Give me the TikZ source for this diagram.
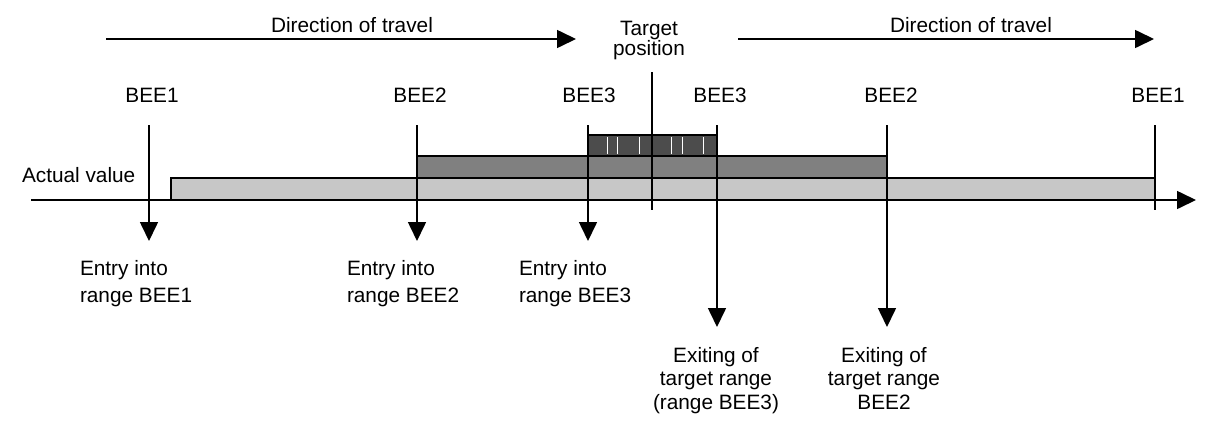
\documentclass[tikz,border=0pt]{standalone}
\usepackage{fontspec}
\setmainfont{Liberation Sans}
\usetikzlibrary{arrows.meta}
\begin{document}
\begin{tikzpicture}[x=1pt,y=-1pt,
  every node/.style={inner sep=0pt, outer sep=0pt, font=\fontsize{20.8}{24}\selectfont},
  ln/.style={line width=1.6pt},
  arr/.style={line width=1.6pt, -{Triangle[length=19pt,width=18pt]}},
  entrylbl/.style={anchor=north west, align=left, font=\fontsize{20.8}{27}\selectfont},
  exitlbl/.style={anchor=north, align=center, font=\fontsize{20.8}{23.5}\selectfont},
  barA/.style={draw=black, line width=1.4pt, fill=black!22},
  barB/.style={draw=black, line width=1.4pt, fill=black!50},
  barC/.style={draw=black, line width=1.4pt, fill=black!70},
  wline/.style={draw=white, line width=0.9pt}
]
\useasboundingbox (0,0) rectangle (1209,421);

% top direction arrows
\node[anchor=base] (dl) at (352,32) {Direction of travel};
\node[anchor=base] (dr) at (971,32) {Direction of travel};
\coordinate (dls) at (106,39); \coordinate (dle) at (576,39);
\coordinate (drs) at (738,39); \coordinate (dre) at (1154,39);
\draw[arr] (dls) -- (dle);
\draw[arr] (drs) -- (dre);

% target position
\node[anchor=north, align=center, font=\fontsize{20.8}{18.5}\selectfont] (tp) at (649,21) {Target\\position};

% BEE labels
\node[anchor=base] (b1l) at (152,102) {BEE1};
\node[anchor=base] (b2l) at (420,102) {BEE2};
\node[anchor=base] (b3l) at (589,102) {BEE3};
\node[anchor=base] (b3r) at (720,102) {BEE3};
\node[anchor=base] (b2r) at (891,102) {BEE2};
\node[anchor=base] (b1r) at (1158,102) {BEE1};

\node[anchor=base west] (av) at (22,182) {Actual value};

% bars
\draw[barA] (171,178) rectangle (1155,200);
\draw[barB] (417,156) rectangle (887,178);
\draw[barC] (588,135) rectangle (717,156);
\foreach \x in {607,617,639,671,682,703} \draw[wline] (\x,137) -- (\x,154);

% axis
\coordinate (ax0) at (31,200); \coordinate (ax1) at (1196,200);
\draw[arr] (ax0) -- (ax1);

% vertical markers
\coordinate (v1t) at (149,125); \coordinate (v1b) at (149,241);
\coordinate (v2t) at (417,125); \coordinate (v2b) at (417,241);
\coordinate (v3t) at (588,125); \coordinate (v3b) at (588,241);
\coordinate (tpt) at (652,72);  \coordinate (tpb) at (652,210);
\coordinate (v4t) at (717,125); \coordinate (v4b) at (717,327);
\coordinate (v5t) at (887,125); \coordinate (v5b) at (887,327);
\coordinate (v6t) at (1155,125); \coordinate (v6b) at (1155,210);
\draw[arr] (v1t) -- (v1b);
\draw[arr] (v2t) -- (v2b);
\draw[arr] (v3t) -- (v3b);
\draw[ln] (tpt) -- (tpb);
\draw[arr] (v4t) -- (v4b);
\draw[arr] (v5t) -- (v5b);
\draw[ln] (v6t) -- (v6b);

% bottom labels
\node[entrylbl] (e1) at (80,260) {Entry into\\range BEE1};
\node[entrylbl] (e2) at (347,260) {Entry into\\range BEE2};
\node[entrylbl] (e3) at (519,260) {Entry into\\range BEE3};
\node[exitlbl] (x3) at (716,347) {Exiting of\\target range\\(range BEE3)};
\node[exitlbl] (x2) at (884,347) {Exiting of\\target range\\BEE2};
\end{tikzpicture}
\end{document}
